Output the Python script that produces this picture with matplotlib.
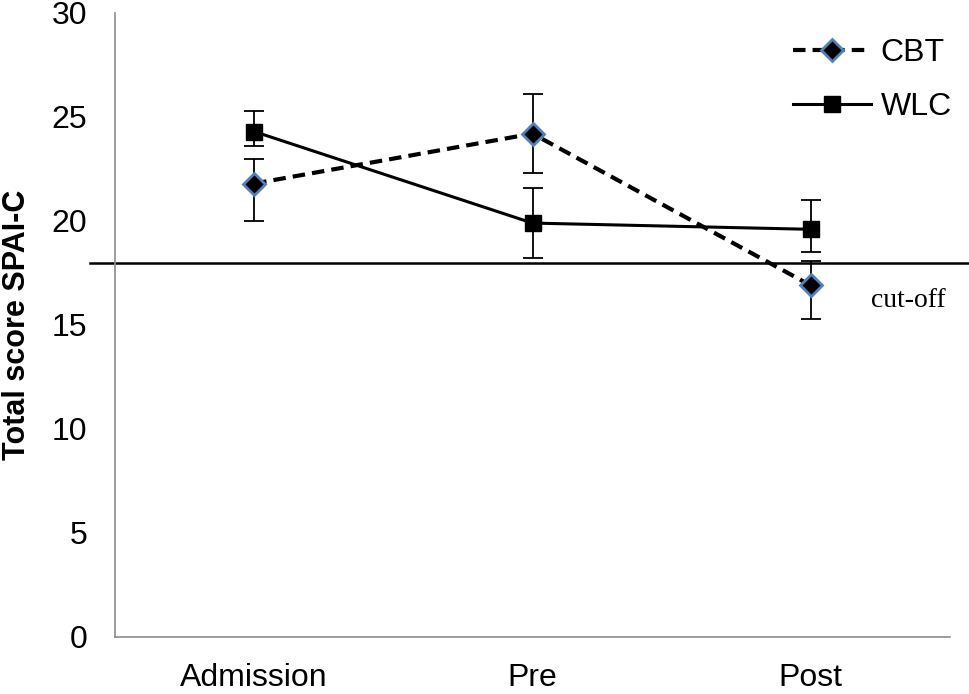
import matplotlib.pyplot as plt
import numpy as np

plt.rcParams['font.family'] = ['Liberation Sans', 'DejaVu Sans']

phases = ['Admission', 'Pre', 'Post']
cbt = [21.8, 24.2, 16.9]
cbt_err_lo = [1.8, 1.9, 1.6]
cbt_err_hi = [1.2, 1.9, 1.2]
wlc = [24.3, 19.9, 19.6]
wlc_err_lo = [0.7, 1.7, 1.1]
wlc_err_hi = [1.0, 1.7, 1.4]
cutoff = 18

fig = plt.figure(figsize=(9.69, 6.94), dpi=100)
ax = fig.add_axes([115/969, 1-637/694, 835/969, 624/694])

x = np.arange(len(phases))

# erreurs
ax.errorbar(x, cbt, yerr=[cbt_err_lo, cbt_err_hi], fmt='none', ecolor='black',
            elinewidth=1.3, capsize=7, capthick=1.3, zorder=2)
ax.errorbar(x, wlc, yerr=[wlc_err_lo, wlc_err_hi], fmt='none', ecolor='black',
            elinewidth=1.3, capsize=7, capthick=1.3, zorder=2)

ax.plot(x, cbt, color='black', lw=3, linestyle=(0, (3, 1.7)), marker='D',
        markersize=11, markerfacecolor='black', markeredgecolor='#4F81BD',
        markeredgewidth=2, label='CBT', zorder=4)
ax.plot(x, wlc, color='black', lw=2.2, marker='s', markersize=11,
        markerfacecolor='black', markeredgecolor='black', label='WLC', zorder=3)

# ligne de cut-off
ax.axhline(cutoff, xmin=-25/835, xmax=854/835, color='black', lw=1.8,
           clip_on=False, zorder=1)
ax.text(2.35, 16.2, 'cut-off', family='Liberation Serif', fontsize=20,
        ha='center', va='center')

ax.set_xlim(-0.5, 2.5)
ax.set_ylim(0, 30)
ax.set_yticks(range(0, 31, 5))
ax.set_xticks(x)
ax.set_xticklabels(phases)
ax.tick_params(axis='both', length=0, labelsize=23)
ax.tick_params(axis='y', pad=20)
ax.tick_params(axis='x', pad=19)
for s in ['top', 'right']:
    ax.spines[s].set_visible(False)
for s in ['left', 'bottom']:
    ax.spines[s].set_color('#8c8c8c')
    ax.spines[s].set_linewidth(1.2)

ax.set_ylabel('Total score SPAI-C', fontsize=22, fontweight='bold', labelpad=14)

ax.legend(loc='upper right', bbox_to_anchor=(968/969, 1-22/694),
          bbox_transform=fig.transFigure, frameon=False, borderpad=0,
          fontsize=23, handlelength=2.45, labelspacing=0.75, handletextpad=0.3)

fig.savefig('out.png', dpi=100)
